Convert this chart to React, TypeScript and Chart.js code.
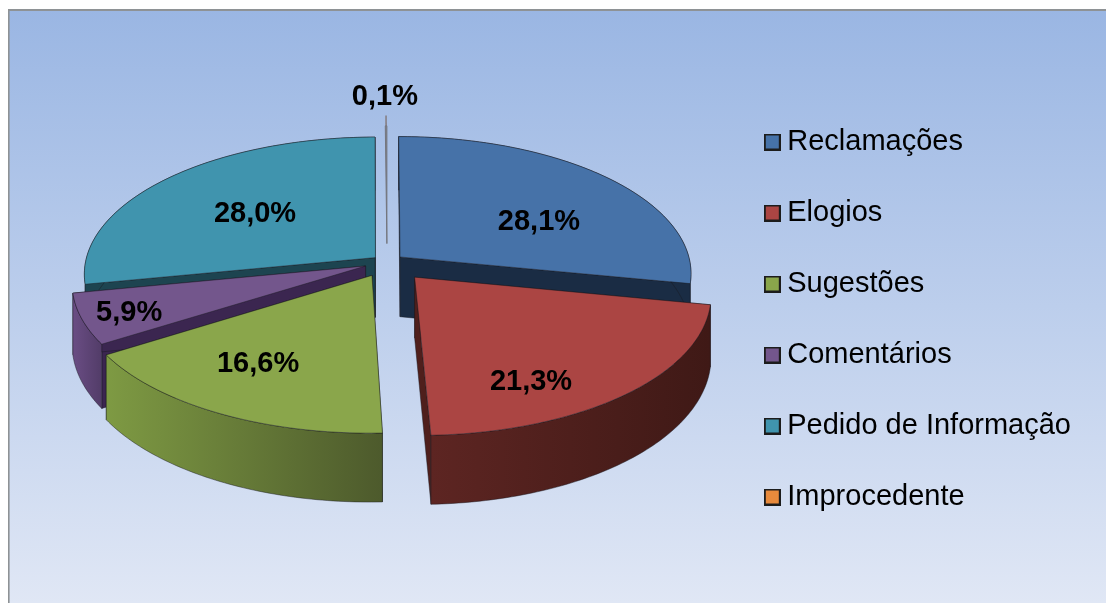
import React, { useEffect, useRef } from "react";
import { Chart, registerables } from "chart.js";

Chart.register(...registerables);

const categories = ["Reclamações", "Elogios", "Sugestões", "Comentários", "Pedido de Informação", "Improcedente"];
const shares = [28.1, 21.3, 16.6, 5.9, 28.0, 0.1];
const shareLabels = ["28,1%", "21,3%", "16,6%", "5,9%", "28,0%", "0,1%"];
const explode = [17, 42, 32, 23, 15, 40];

const swatchColors = ["#4672A8", "#AB4543", "#8AA64B", "#73568C", "#4094AE", "#E88A3C"];
const wallFrom = ["#1A2C44", "#5D2522", "#7E9A43", "#6A4D84", "#1D4450", "#7A4A20"];
const wallTo = ["#1A2C44", "#3F1916", "#4D5A2C", "#523C68", "#1D4450", "#7A4A20"];
const cutColors = ["#1A2C44", "#4F1F1C", "#5A6B30", "#3B2650", "#1D4450", "#7A4A20"];
const labelRadius = [0.577, 0.768, 0.68, 0.838, 0.558, 1.3];
const labelTurn = [9.9, 12.6, 3.7, -0.4, 0, 0];

const CX = 387;
const CY = 262;
const R = 290;
const TILT = 0.468;
const PERSP = 0.118;
const DEPTH = 60;

function project(u: number, v: number, z: number) {
  const w = 1 / (1 - (PERSP * v) / R);
  return { x: CX + u * w, y: CY + TILT * v * w + z * w };
}

function swatch(color: string) {
  const c = document.createElement("canvas");
  c.width = 17;
  c.height = 17;
  const g = c.getContext("2d")!;
  g.fillStyle = "#1c1c1c";
  g.fillRect(0, 0, 17, 17);
  g.fillStyle = color;
  g.fillRect(2, 2, 13, 13);
  return c;
}

const pie3d = {
  id: "pie3d",
  beforeDraw(chart: any) {
    const { ctx, width, height } = chart;
    ctx.save();
    const g = ctx.createLinearGradient(0, 9, 0, height);
    g.addColorStop(0, "#9AB6E3");
    g.addColorStop(0.5, "#BCCEEC");
    g.addColorStop(1, "#E0E7F5");
    ctx.fillStyle = g;
    ctx.fillRect(8, 9, width - 8, height - 9);
    ctx.fillStyle = "#8E9295";
    ctx.fillRect(8, 9, width - 8, 2);
    ctx.fillRect(8, 9, 1.6, height - 9);
    ctx.restore();
  },
  beforeDatasetsDraw(chart: any) {
    const { ctx } = chart;
    const arcs = chart.getDatasetMeta(0).data;
    const slices = arcs.map((arc: any, i: number) => {
      const a0 = arc.startAngle;
      const a1 = arc.endAngle;
      const mid = (a0 + a1) / 2;
      const off = arc.options.offset as number;
      return { i, a0, a1, mid, u0: Math.cos(mid) * off, v0: Math.sin(mid) * off };
    });
    const order = [...slices].sort((p, q) => Math.sin(p.mid) - Math.sin(q.mid));
    const edge = "rgba(25,25,30,0.45)";

    const poly = (pts: { x: number; y: number }[], fill: any, stroke = edge) => {
      ctx.beginPath();
      pts.forEach((p, n) => (n ? ctx.lineTo(p.x, p.y) : ctx.moveTo(p.x, p.y)));
      ctx.closePath();
      ctx.fillStyle = fill;
      ctx.fill();
      ctx.strokeStyle = stroke;
      ctx.lineWidth = 1;
      ctx.stroke();
    };

    ctx.save();
    for (const s of order) {
      const n = Math.max(2, Math.ceil((s.a1 - s.a0) * 60));
      const rim = (z: number) => {
        const out = [];
        for (let t = 0; t <= n; t++) {
          const a = s.a0 + ((s.a1 - s.a0) * t) / n;
          out.push(project(s.u0 + R * Math.cos(a), s.v0 + R * Math.sin(a), z));
        }
        return out;
      };
      const top = rim(0);
      const apexT = project(s.u0, s.v0, 0);
      if (s.i === 5) {
        poly([apexT, ...top], "#7E8088", "#74767E");
        continue;
      }
      const bottom = rim(DEPTH);
      const apexB = project(s.u0, s.v0, DEPTH);
      const c = cutColors[s.i];
      poly([apexT, top[0], bottom[0], apexB], c);
      poly([apexT, top[n], bottom[n], apexB], c);
      const xs = top.map((p: any) => p.x);
      const g = ctx.createLinearGradient(Math.min(...xs), 0, Math.max(...xs), 0);
      g.addColorStop(0, wallFrom[s.i]);
      g.addColorStop(1, wallTo[s.i]);
      poly([...top, ...[...bottom].reverse()], g);
      poly([apexT, ...top], swatchColors[s.i]);
    }

    // labels and the leader of the smallest slice
    ctx.fillStyle = "#000";
    ctx.font = "bold 29px 'Liberation Sans'";
    ctx.textAlign = "center";
    ctx.textBaseline = "middle";
    for (const s of slices) {
      const a = s.mid + (labelTurn[s.i] * Math.PI) / 180;
      const r = labelRadius[s.i] * R;
      const p = project(s.u0 + r * Math.cos(a), s.v0 + r * Math.sin(a), 0);
      ctx.fillText(shareLabels[s.i], p.x - 1, p.y + 2);
    }
    const thin = slices[5];
    const leaderA = project(thin.u0 + 1.1 * R * Math.cos(thin.mid), thin.v0 + 1.1 * R * Math.sin(thin.mid), 0);
    const leaderB = project(thin.u0 + R * Math.cos(thin.mid), thin.v0 + R * Math.sin(thin.mid), 0);
    ctx.strokeStyle = "#7A6A64";
    ctx.lineWidth = 1.2;
    ctx.beginPath();
    ctx.moveTo(leaderA.x, leaderA.y);
    ctx.lineTo(leaderB.x, leaderB.y);
    ctx.stroke();
    ctx.restore();
    return false;
  },
};

export default function App() {
  const ref = useRef<HTMLCanvasElement>(null);
  useEffect(() => {
    const chart = new Chart(ref.current!, {
      type: "pie",
      data: {
        labels: categories,
        datasets: [
          {
            data: shares,
            backgroundColor: swatchColors,
            borderColor: "#1c1c1c",
            offset: explode,
          } as any,
        ],
      },
      options: {
        responsive: false,
        animation: false,
        events: [],
        layout: { padding: { top: 36, right: 25 } },
        plugins: {
          tooltip: { enabled: false },
          legend: {
            position: "right",
            labels: {
              color: "#111",
              font: { family: "'Liberation Sans'", size: 29 },
              usePointStyle: true,
              pointStyleWidth: 1,
              boxHeight: 16,
              padding: 42,
              generateLabels: () =>
                categories.map((text, i) => ({
                  text,
                  index: i,
                  datasetIndex: 0,
                  fillStyle: swatchColors[i],
                  strokeStyle: "#1c1c1c",
                  lineWidth: 0,
                  hidden: false,
                  pointStyle: swatch(swatchColors[i]),
                })),
            },
          },
        },
      },
      plugins: [pie3d],
    } as any);
    return () => chart.destroy();
  }, []);
  return (
    <div style={{ position: "fixed", left: 0, top: 0, width: 1106, height: 603, overflow: "hidden" }}>
      <canvas ref={ref} width={1106} height={603} style={{ display: "block" }} />
    </div>
  );
}
